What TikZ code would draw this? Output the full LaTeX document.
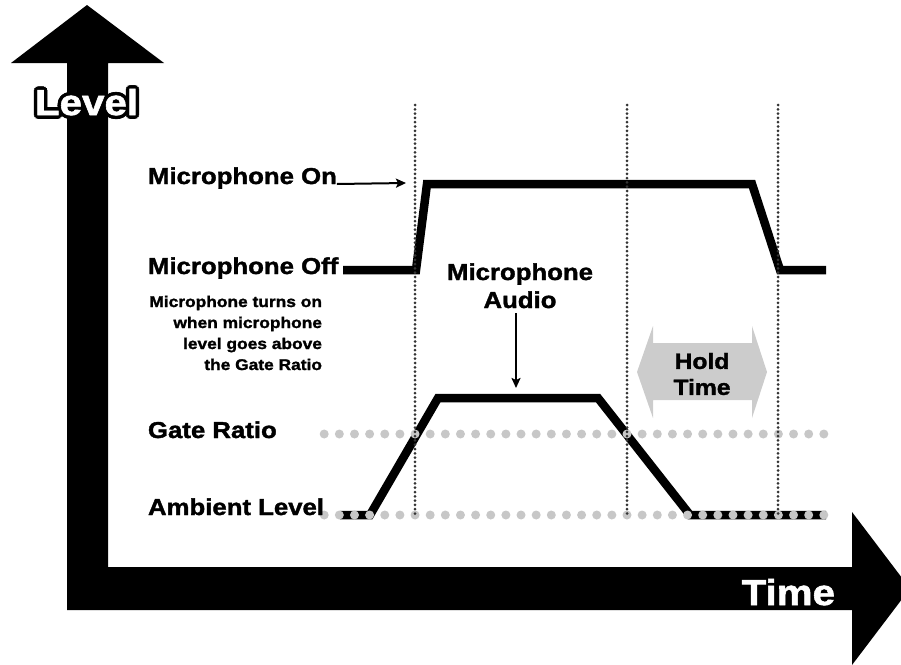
\documentclass[tikz,border=0pt]{standalone}
\usepackage{fontspec}
\setmainfont{Liberation Sans}[BoldFeatures={FakeStretch=1.12,FakeBold=1.6}]
\usetikzlibrary{arrows.meta,positioning}

\begin{document}
\begin{tikzpicture}[
  x=1pt, y=-1pt,
  every node/.style={inner sep=0pt, outer sep=0pt},
  lbl/.style={anchor=base west, font=\bfseries\fontsize{23}{28}\selectfont},
  big/.style={font=\bfseries\fontsize{36}{40}\selectfont},
  sig/.style={line width=8.5pt, line join=miter},
  gridline/.style={dash pattern=on 0pt off 4.3pt, line cap=round, line width=3pt, black!80},
  gdot/.style={fill=black!22},
  arr/.style={-{Stealth[length=10pt,width=9pt,inset=2pt]}, line width=2pt}
]
\clip (0,0) rectangle (901,664);
% axes
\fill (87,5) -- (164,63) -- (108,63) -- (108,567) -- (852,567) -- (852,512) -- (910,588.5)
  -- (852,665) -- (852,610) -- (67,610) -- (67,63) -- (11,63) -- cycle;
\node[big, text=white, anchor=base east] (time) at (835,605) {Time};
\foreach \a in {0,30,...,330}
  \node[big, anchor=base west, shift={(\a:3.5pt)}] (lvl\a) at (35,115) {Level};
\node[big, text=white, anchor=base west] (level) at (35,115) {Level};

% signals
\draw[sig] (343,270) -- (416,270) -- (427,184) -- (752,184) -- (780,270) -- (826,270);
\draw[sig] (340,515) -- (370,515) -- (438,398) -- (598,398) -- (690,515) -- (826,515);
\foreach \k in {0,...,33} {
  \fill[gdot] (324.2+15.14*\k,434) circle (4.5pt);
  \fill[gdot] (324.2+15.14*\k,515) circle (4.5pt);
}
\foreach \x in {415,627,778}
  \draw[gridline] (\x,105) -- (\x,515);

% hold time
\fill[black!20] (637,372) -- (653,326) -- (653,343) -- (752,343) -- (752,326) -- (767,372)
  -- (752,418) -- (752,400) -- (653,400) -- (653,418) -- cycle;
\node[align=center, font=\bfseries\fontsize{22}{26}\selectfont] (hold) at (702,374) {Hold\\Time};

% labels
\node[lbl] (micon) at (148,184) {Microphone On};
\node[lbl] (micoff) at (148,274) {Microphone Off};
\node[lbl] (gate) at (148,438) {Gate Ratio};
\node[lbl] (amb) at (148,515) {Ambient Level};
\node[align=right, anchor=base east, font=\bfseries\fontsize{15.5}{21}\selectfont] (note) at (322,370)
  {Microphone turns on\\when microphone\\level goes above\\the Gate Ratio};
\node[align=center, anchor=base, font=\bfseries\fontsize{23}{28}\selectfont] (audio) at (520,308)
  {Microphone\\Audio};

\coordinate (onend) at (406,183);
\coordinate (audiotip) at (516,388);
\draw[arr] (micon.base east) -- (onend);
\draw[arr] (audiotip |- audio.south) ++(0,5) -- (audiotip);
\end{tikzpicture}
\end{document}
